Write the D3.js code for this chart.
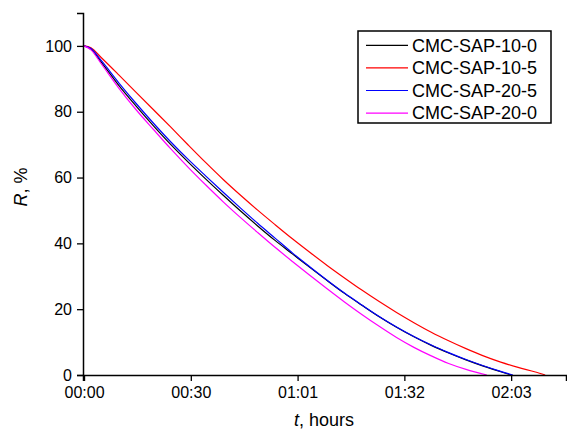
<!DOCTYPE html>
<html>
<head>
<meta charset="utf-8">
<script src="https://cdn.jsdelivr.net/npm/d3@7"></script>
<style>
  body { margin: 0; background: #fff; }
  svg { font-family: "Liberation Sans", Arial, sans-serif; }
</style>
</head>
<body>
<svg width="567" height="430"></svg>
<script>
// Time in minutes, R in %
var seriesNames = ["CMC-SAP-10-0", "CMC-SAP-10-5", "CMC-SAP-20-5", "CMC-SAP-20-0"];
var seriesColors = ["#000000", "#ff0000", "#0000ff", "#ff00ff"];

var black_t = [0, 2, 5, 10, 15, 20, 25, 30, 35, 40, 45, 50, 55, 60, 65, 70, 75, 80, 85, 90, 95, 100, 105, 110, 115, 120, 123];
var black_r = [100, 99, 95, 88, 81.7, 75.7, 70, 64.7, 59.6, 54.7, 49.9, 45.3, 40.9, 36.8, 32.7, 28.7, 24.8, 21.2, 17.7, 14.5, 11.6, 9.0, 6.7, 4.6, 2.7, 1.0, 0];

var red_t = [0, 2, 5, 10, 15, 20, 25, 30, 35, 40, 45, 50, 55, 60, 65, 70, 75, 80, 85, 90, 95, 100, 105, 110, 115, 120, 125, 130, 132.8];
var red_r = [100, 99.4, 96.4, 91.2, 85.9, 80.6, 75.3, 69.9, 64.6, 59.5, 54.7, 50.1, 45.7, 41.4, 37.3, 33.3, 29.5, 25.8, 22.3, 19.0, 15.9, 13.0, 10.4, 8.0, 5.8, 3.9, 2.3, 0.9, 0];

var blue_t = [0, 2, 5, 10, 15, 20, 25, 30, 35, 40, 45, 50, 55, 60, 65, 70, 75, 80, 85, 90, 95, 100, 105, 110, 115, 120, 123.5];
var blue_r = [100, 99.2, 95.5, 88.8, 82.5, 76.5, 70.8, 65.5, 60.5, 55.6, 50.8, 46.1, 41.6, 37.1, 32.9, 28.8, 24.9, 21.3, 17.8, 14.6, 11.7, 9.1, 6.8, 4.7, 2.8, 1.1, 0];

var magenta_t = [0, 2, 5, 10, 15, 20, 25, 30, 35, 40, 45, 50, 55, 60, 65, 70, 75, 80, 85, 90, 95, 100, 105, 110, 116];
var magenta_r = [100, 98.8, 94.5, 87.2, 80.6, 74.6, 68.7, 63.1, 57.8, 52.7, 47.9, 43.3, 38.8, 34.5, 30.3, 26.2, 22.2, 18.4, 14.8, 11.4, 8.4, 5.8, 3.5, 1.7, 0];

var xTickValues = [0, 30.75, 61.5, 92.25, 123];
var xTickLabels = ["00:00", "00:30", "01:01", "01:32", "02:03"];
var yTickValues = [0, 20, 40, 60, 80, 100];

var seriesT = [black_t, red_t, blue_t, magenta_t];
var seriesR = [black_r, red_r, blue_r, magenta_r];

var svg = d3.select("svg");

var x = d3.scaleLinear().domain([-0.3, 138.8]).range([83, 566]);
var y = d3.scaleLinear().domain([0, 110]).range([375, 13]);

// Curves
var line = d3.line()
    .x(function(d) { return x(d[0]); })
    .y(function(d) { return y(d[1]); })
    .curve(d3.curveMonotoneX);

seriesT.forEach(function(ts, i) {
  var pts = ts.map(function(t, j) { return [t, seriesR[i][j]]; });
  svg.append("path")
      .attr("d", line(pts))
      .attr("fill", "none")
      .attr("stroke", seriesColors[i])
      .attr("stroke-width", 1.2);
});

// Axes
var xAxis = svg.append("g")
    .attr("transform", "translate(0,375)")
    .call(d3.axisBottom(x)
      .tickValues(xTickValues)
      .tickFormat(function(d, i) { return xTickLabels[i]; })
      .tickSizeOuter(0)
      .tickSize(6)
      .tickPadding(6));

var yAxis = svg.append("g")
    .attr("transform", "translate(83,0)")
    .call(d3.axisLeft(y)
      .tickValues(yTickValues)
      .tickSizeOuter(0)
      .tickSize(6)
      .tickPadding(5));

[xAxis, yAxis].forEach(function(a) {
  a.select(".domain").attr("stroke", "#000").attr("stroke-width", 1.5);
  a.selectAll(".tick line").attr("stroke", "#000").attr("stroke-width", 1.3);
  a.selectAll(".tick text")
      .attr("fill", "#000")
      .style("font-size", "16px")
      .style("font-family", "'Liberation Sans', Arial, sans-serif");
});

// Axis titles
var xTitle = svg.append("text")
    .attr("x", 324)
    .attr("y", 426)
    .attr("text-anchor", "middle")
    .style("font-size", "18px");
xTitle.append("tspan").style("font-style", "italic").text("t");
xTitle.append("tspan").text(", hours");

var yTitle = svg.append("text")
    .attr("transform", "translate(27,187) rotate(-90)")
    .attr("text-anchor", "middle")
    .style("font-size", "18px");
yTitle.append("tspan").style("font-style", "italic").text("R");
yTitle.append("tspan").text(", %");

// Legend
var legend = svg.append("g");
legend.append("rect")
    .attr("x", 358)
    .attr("y", 31)
    .attr("width", 193)
    .attr("height", 92)
    .attr("fill", "#fff")
    .attr("stroke", "#000")
    .attr("stroke-width", 1.5);

seriesNames.forEach(function(name, i) {
  var ly = 45.3 + i * 22.6;
  legend.append("line")
      .attr("x1", 366).attr("x2", 408)
      .attr("y1", ly).attr("y2", ly)
      .attr("stroke", seriesColors[i])
      .attr("stroke-width", 1.2);
  legend.append("text")
      .attr("x", 412)
      .attr("y", ly)
      .attr("dy", "0.35em")
      .style("font-size", "18px")
      .text(name);
});
</script>
</body>
</html>
